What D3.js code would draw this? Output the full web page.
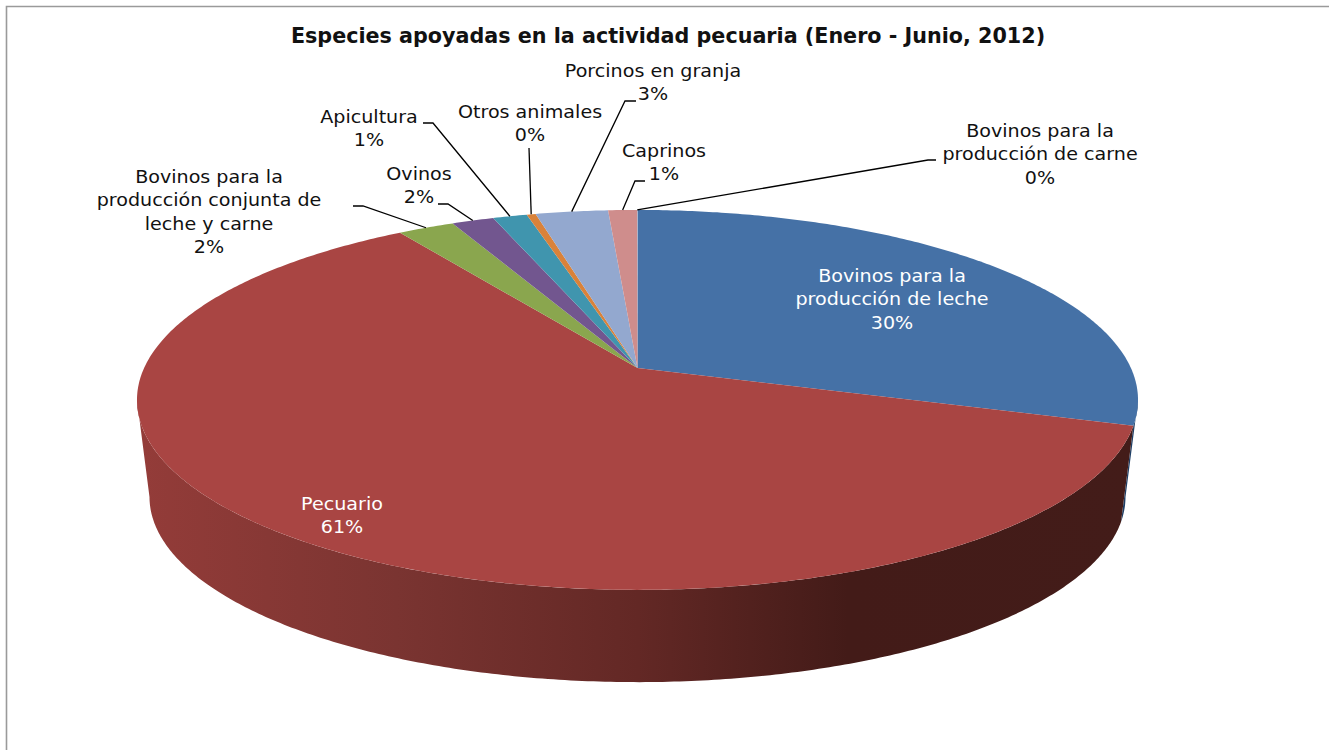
<!DOCTYPE html>
<html>
<head>
<meta charset="utf-8">
<script src="https://d3js.org/d3.v7.min.js"></script>
<style>
    html, body { margin: 0; padding: 0; background: #fff; overflow: hidden; }
    text { font-family: "DejaVu Sans", sans-serif; }
</style>
</head>
<body>
<svg id="plotSvg" width="1329" height="750"></svg>
<script>
const chartTitle = "Especies apoyadas en la actividad pecuaria (Enero - Junio, 2012)";

// Values in percent, in the drawing order of the slices
const categories = [
    "Bovinos para la producción de leche",
    "Pecuario",
    "Bovinos para la producción conjunta de leche y carne",
    "Ovinos",
    "Apicultura",
    "Otros animales",
    "Porcinos en granja",
    "Caprinos",
    "Bovinos para la producción de carne"
];
const shares = [29.8, 60.95, 2.15, 1.6, 1.3, 0.34, 2.75, 1.1, 0.01];
const sliceColors = ["#4571a6", "#a94543", "#8aa64e", "#72568f", "#4095ae", "#d9823a", "#93a8cf", "#cf8d8c", "#b8cce4"];
const sideColors = ["#1f3f66", "#7a3431"];

const labelLines = [
    ["Bovinos para la", "producción de leche"],
    ["Pecuario"],
    ["Bovinos para la", "producción conjunta de", "leche y carne"],
    ["Ovinos"],
    ["Apicultura"],
    ["Otros animales"],
    ["Porcinos en granja"],
    ["Caprinos"],
    ["Bovinos para la", "producción de carne"]
];

// Where each label sits and where its leader line bends
const labelLayout = [
    { x: 892, y: 282, fill: "#fff" },
    { x: 342, y: 510, fill: "#fff" },
    { x: 209, y: 183, fill: "#111", elbow: [[353, 206], [363, 206]] },
    { x: 419, y: 180, fill: "#111", elbow: [[438, 204], [448, 204]] },
    { x: 369, y: 123, fill: "#111", elbow: [[423, 123], [433, 123]] },
    { x: 530, y: 118, fill: "#111", elbow: [[529, 148]] },
    { x: 653, y: 77, fill: "#111", elbow: [[636, 101], [625, 101]] },
    { x: 664, y: 157, fill: "#111", elbow: [[645, 181], [635, 181]] },
    { x: 1040, y: 137, fill: "#111", elbow: [[936, 160], [928, 160]] }
];

const svg = d3.select("#plotSvg");

// Perspective of the disc: unit circle (u, v) to the screen, apex at (cx, apexY)
const cx = 637.5, apexY = 368, tilt = -0.168, spanX = 493.4, spanY = 184.6;
const project = angle => {
    const u = Math.sin(angle), v = -Math.cos(angle), w = 1 + tilt * v;
    return [cx + spanX * u / w, apexY + spanY * v / w];
};
// The lower rim is the upper one, a bit smaller and pushed down
const lower = p => [cx + 0.975 * (p[0] - cx), 497 + 0.975 * (p[1] - 400)];

const pie = d3.pie().sort(null).value(d => d)(shares);
const line = d3.line();

const arcPoints = (a0, a1) => {
    const n = Math.max(2, Math.ceil((a1 - a0) / 0.01));
    return d3.range(n + 1).map(i => project(a0 + (a1 - a0) * i / n));
};

// Horizontal shading of the red wall
const defs = svg.append("defs");
const grad = defs.append("linearGradient")
    .attr("id", "redSide")
    .attr("gradientUnits", "userSpaceOnUse")
    .attr("x1", 137).attr("x2", 1138).attr("y1", 0).attr("y2", 0);
[[0, "#943c39"], [0.26, sideColors[1]], [0.5, "#632825"], [0.71, "#431b18"], [1, "#431c19"]]
    .forEach(s => grad.append("stop").attr("offset", s[0]).attr("stop-color", s[1]));

// Side wall, only the part of the rim that faces the viewer (widest point of the ellipse on each side)
const sideStart = Math.PI / 2 + 0.169, sideEnd = 1.5 * Math.PI - 0.169;
pie.forEach((d, i) => {
    const a0 = Math.max(d.startAngle, sideStart), a1 = Math.min(d.endAngle, sideEnd);
    if (a1 <= a0) return;
    const top = arcPoints(a0, a1);
    svg.append("path")
        .attr("d", line(top.concat(top.map(lower).reverse())) + "Z")
        .attr("fill", i === 1 ? "url(#redSide)" : sideColors[0]);
});

// Top face
svg.selectAll(".slice")
    .data(pie)
    .enter().append("path")
    .attr("class", "slice")
    .attr("d", d => line([[cx, apexY]].concat(arcPoints(d.startAngle, d.endAngle))) + "Z")
    .attr("fill", (d, i) => sliceColors[i]);

// Leader lines, from the label elbow to the middle of the slice on the rim
pie.forEach((d, i) => {
    const layout = labelLayout[i];
    if (!layout.elbow) return;
    const mid = i === pie.length - 1 ? d.startAngle : (d.startAngle + d.endAngle) / 2;
    svg.append("path")
        .attr("d", line(layout.elbow.concat([project(mid)])))
        .attr("fill", "none")
        .attr("stroke", "#000")
        .attr("stroke-width", 1.3);
});

// Labels, name lines first and the rounded percent last. The original type is wider
// than DejaVu, so it gets stretched sideways
pie.forEach((d, i) => {
    const layout = labelLayout[i];
    const lines = labelLines[i].concat([Math.round(shares[i]) + "%"]);
    svg.append("text")
        .attr("transform", `translate(${layout.x},0) scale(1.125,1)`)
        .attr("text-anchor", "middle")
        .attr("fill", layout.fill)
        .attr("font-size", 17)
        .selectAll("tspan")
        .data(lines)
        .enter().append("tspan")
        .attr("x", 0)
        .attr("y", (t, j) => layout.y + j * 23.5)
        .text(t => t);
});

svg.append("text")
    .attr("x", 668)
    .attr("y", 43)
    .attr("text-anchor", "middle")
    .attr("font-size", 20.7)
    .attr("font-weight", "bold")
    .attr("fill", "#111")
    .text(chartTitle);

// Chart frame: only the top and left edges are in the picture
svg.append("path")
    .attr("d", "M6.5,750V6.5H1329")
    .attr("fill", "none")
    .attr("stroke", "#9a9a9a")
    .attr("stroke-width", 1.6);
</script>
</body>
</html>
